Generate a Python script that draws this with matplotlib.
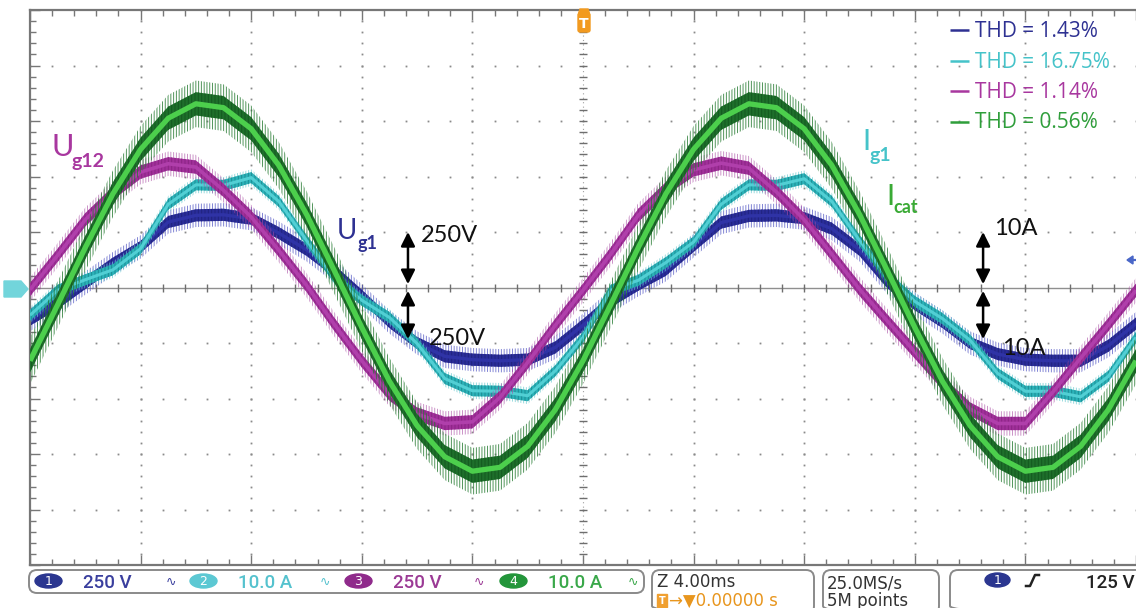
import numpy as np
import matplotlib.pyplot as plt
from matplotlib.patches import FancyBboxPatch, Ellipse, Polygon, Rectangle

W, H = 1136, 608

# 40 ms record, one reading per ms (4 ms/div)
t_ms = np.arange(41)

# traces in screen divisions: ch1/ch3 250 V/div, ch2/ch4 10 A/div
u_g1 = [-0.58, -0.28, 0.08, 0.43, 0.73, 1.18, 1.30, 1.31, 1.24, 0.98,
        0.68, 0.30, -0.15, -0.62, -1.00, -1.24, -1.30, -1.32, -1.30, -1.08,
        -0.68, -0.25, 0.05, 0.32, 0.75, 1.17, 1.29, 1.30, 1.25, 1.06,
        0.68, 0.10, -0.30, -0.62, -1.00, -1.20, -1.30, -1.32, -1.32, -1.05,
        -0.65]
i_g1 = [-0.50, -0.05, 0.14, 0.32, 0.70, 1.50, 1.85, 1.84, 1.98, 1.55,
        0.85, 0.18, -0.23, -0.54, -1.01, -1.64, -1.86, -1.87, -1.95, -1.50,
        -0.90, -0.05, 0.13, 0.45, 0.82, 1.50, 1.85, 1.84, 1.96, 1.55,
        0.85, 0.20, -0.25, -0.56, -0.95, -1.55, -1.87, -1.87, -1.97, -1.60,
        -0.90]
u_g12 = [-0.04, 0.58, 1.22, 1.70, 2.08, 2.23, 2.17, 1.75, 1.27, 0.67,
         0.04, -0.66, -1.32, -1.92, -2.28, -2.45, -2.42, -1.98, -1.35, -0.68,
         -0.05, 0.60, 1.30, 1.78, 2.12, 2.24, 2.15, 1.72, 1.22, 0.60,
         -0.03, -0.60, -1.16, -1.72, -2.19, -2.45, -2.45, -1.88, -1.27, -0.67,
         -0.05]
i_cat = [-1.32, -0.31, 0.72, 1.69, 2.49, 3.05, 3.31, 3.24, 2.86, 2.20,
         1.32, 0.31, -0.72, -1.69, -2.49, -3.05, -3.31, -3.24, -2.86, -2.20,
         -1.32, -0.31, 0.72, 1.69, 2.49, 3.05, 3.31, 3.24, 2.86, 2.20,
         1.32, 0.31, -0.72, -1.69, -2.49, -3.05, -3.31, -3.24, -2.86, -2.20,
         -1.32]

thd_text = ["THD = 1.43%", "THD = 16.75%", "THD = 1.14%", "THD = 0.56%"]
ch_names = ["1", "2", "3", "4"]
ch_scale = ["250 V", "10.0 A", "250 V", "10.0 A"]

BLUE = '#2e3192'
CYAN = '#45c3c9'
MAGENTA = '#a8379f'
GREEN = '#2f9e3b'
GRID = '#8a8a8a'


def graticule(ax):
    major_x = np.arange(0, 41, 4)
    minor_x = np.arange(0, 40.01, 0.8)
    major_y = np.arange(-5, 6)
    minor_y = np.arange(-5, 5.01, 0.2)

    for yv in major_y[1:-1]:
        if yv == 0:
            continue
        ax.plot(minor_x, np.full_like(minor_x, yv, dtype=float), ls='none',
                marker='s', ms=1.3, mew=0, color=GRID, zorder=1)
    for xv in major_x[1:-1]:
        if xv == 20:
            continue
        ax.plot(np.full_like(minor_y, xv, dtype=float), minor_y, ls='none',
                marker='s', ms=1.3, mew=0, color=GRID, zorder=1)

    # centre cross with sub-division ticks
    ax.axhline(0, color='#8f8f8f', lw=1.0, zorder=1)
    ax.plot(minor_x, np.zeros_like(minor_x), ls='none', marker='|', ms=6,
            mew=1.0, color='#6e6e6e', zorder=1)
    ax.axvline(20, color='#a0a0a0', lw=0.8, ls=(0, (1, 3)), zorder=1)
    ax.plot(np.full_like(minor_y, 20), minor_y, ls='none', marker='_', ms=6,
            mew=1.0, color='#6e6e6e', zorder=1)

    ax.set_xticks(major_x)
    ax.set_xticks(minor_x, minor=True)
    ax.set_yticks(major_y)
    ax.set_yticks(minor_y, minor=True)
    ax.tick_params(which='both', direction='in', color='#777777', width=1,
                   top=True, bottom=True, left=True, right=False,
                   labelbottom=False, labelleft=False)
    ax.tick_params(which='major', length=7)
    ax.tick_params(which='minor', length=4)
    for side in ['left', 'top', 'bottom']:
        ax.spines[side].set_color('#777777')
        ax.spines[side].set_linewidth(1.6)
    ax.spines['right'].set_visible(False)


def trace(ax, v, band_color, hatch_color, spike_color, line_color,
          band, spike, lw, z, spike_alpha=0.7):
    v = np.asarray(v)
    ax.fill_between(t_ms, v - spike, v + spike, facecolor='none',
                    edgecolor=spike_color, hatch='||||||', lw=0,
                    alpha=spike_alpha, zorder=z)
    ax.fill_between(t_ms, v - band, v + band, facecolor=band_color,
                    edgecolor=hatch_color, hatch='|||||', lw=0, zorder=z + 0.1)
    ax.plot(t_ms, v, color=line_color, lw=lw, zorder=z + 0.2,
            solid_capstyle='butt', solid_joinstyle='round')


def sub_label(ov, x, y, main, sub, color, size, sub_size, dx, dy):
    ov.text(x, y, main, color=color, fontsize=size, family='Lato',
            va='baseline', ha='left')
    ov.text(x + dx, y + dy, sub, color=color, fontsize=sub_size,
            family='Lato', va='baseline', ha='left', fontweight='bold')


def main():
    plt.rcParams['hatch.linewidth'] = 0.7
    fig = plt.figure(figsize=(W / 100, H / 100), dpi=100)
    fig.patch.set_facecolor('white')

    ax = fig.add_axes([30 / W, 1 - 565 / H, 1106 / W, 555 / H])
    ax.set_xlim(0, 40)
    ax.set_ylim(-5, 5)
    graticule(ax)

    trace(ax, u_g1, '#2a2d99', '#20237f', '#4d51c2', '#2f33a6', 0.11, 0.21, 2.4, 2)
    trace(ax, i_g1, '#2cb3b9', '#1b8c94', '#6ccbd0', '#52cfd4', 0.10, 0.15, 2.2, 3)
    trace(ax, u_g12, '#a1309a', '#8a2484', '#a84aa2', '#b03fab', 0.12, 0.22, 2.6, 4, 0.6)
    trace(ax, i_cat, '#1e6f2b', '#145a20', '#257a31', '#4ccf4c', 0.21, 0.42, 3.8, 5, 0.8)

    # one division = 250 V (voltage channels) / 10 A (current channels)
    arrow = dict(arrowstyle='<|-|>,head_length=0.6,head_width=0.3',
                 color='black', lw=1.8, shrinkA=0, shrinkB=0, mutation_scale=14)
    for xa in [13.67, 34.47]:
        ax.annotate('', xy=(xa, 1.0), xytext=(xa, 0.06), arrowprops=arrow,
                    zorder=8)
        ax.annotate('', xy=(xa, -0.93), xytext=(xa, -0.06), arrowprops=arrow,
                    zorder=8)

    # overlay in pixel coordinates for labels and the status bar
    ov = fig.add_axes([0, 0, 1, 1])
    ov.set_xlim(0, W)
    ov.set_ylim(H, 0)
    ov.set_axis_off()

    sub_label(ov, 51, 156, 'U', 'g12', MAGENTA, 22, 14, 20, 11)
    sub_label(ov, 337, 239, 'U', 'g1', BLUE, 20, 13, 20, 10)
    sub_label(ov, 862, 150, 'I', 'g1', CYAN, 21, 14, 7, 11)
    sub_label(ov, 886, 205, 'I', 'cat', '#3aaa35', 21, 13, 7, 8)

    for x, y, s in [(421, 242, '250V'), (429, 345, '250V'),
                    (994, 235, '10A'), (1002, 355, '10A')]:
        ov.text(x, y, s, color='#111111', fontsize=17, family='Lato',
                va='baseline', ha='left', zorder=9)

    # THD legend
    for i, (s, c) in enumerate(zip(thd_text, [BLUE, CYAN, MAGENTA, GREEN])):
        yb = 37 + i * 30.5
        ov.plot([950, 969], [yb - 7, yb - 7], color=c, lw=1.8,
                solid_capstyle='butt')
        ov.text(975, yb, s, color=c, fontsize=15, family='Open Sans',
                va='baseline', ha='left')

    # channel 2 ground marker and trigger markers
    ov.add_patch(Polygon([(4, 281), (21, 281), (28, 289), (21, 297), (4, 297)],
                         closed=True, color='#72d5db', zorder=5))
    ov.text(14, 289.5, '2', color='#4f9499', fontsize=9, ha='center',
            va='center', family='DejaVu Sans')
    ov.add_patch(Polygon([(580, 9), (588, 9), (590, 15), (578, 15)],
                         closed=True, color='#f29a1f'))
    ov.add_patch(FancyBboxPatch((578, 14), 12, 18,
                                boxstyle='round,pad=0,rounding_size=2',
                                color='#f29a1f'))
    ov.text(584, 23.5, 'T', color='white', fontsize=10, fontweight='bold',
            ha='center', va='center', family='DejaVu Sans')
    ov.add_patch(Polygon([(1127, 260), (1133, 256), (1133, 264)],
                         closed=True, color='#4a67c8'))
    ov.plot([1132, 1137], [260, 260], color='#4a67c8', lw=1.6)

    # status bar
    box = dict(boxstyle='round,pad=0,rounding_size=8', facecolor='none',
               edgecolor='#8a8a8a', lw=1.4)
    ov.add_patch(FancyBboxPatch((29, 570), 615, 23, **box))
    ov.add_patch(FancyBboxPatch((652, 570), 162, 44, **box))
    ov.add_patch(FancyBboxPatch((823, 570), 116, 44, **box))
    ov.add_patch(FancyBboxPatch((950, 570), 200, 44, **box))

    fill = ['#2b3690', '#5cc8d3', '#8f2a8b', '#23953a']
    text_col = ['#3a3f9e', '#55c2ce', '#9b3a95', '#3aa84a']
    for i in range(4):
        xe = 48.5 + 155 * i
        ov.add_patch(Ellipse((xe, 581), 27, 14, color=fill[i]))
        ov.text(xe, 581.5, ch_names[i], color='white', fontsize=9,
                ha='center', va='center', family='DejaVu Sans')
        ov.text(83 + 155 * i, 588, ch_scale[i], color=text_col[i],
                fontsize=13.5, family='Roboto', fontweight='medium',
                va='baseline', ha='left')
        ov.text(171 + 154 * i, 582, '\u223f', color=text_col[i], fontsize=9,
                ha='center', va='center', family='DejaVu Sans')

    ov.text(657, 587, 'Z 4.00ms', color='#333333', fontsize=12,
            family='DejaVu Sans', va='baseline')
    ov.add_patch(Rectangle((657, 594), 10, 13, color='#f0a030'))
    ov.text(662, 600.5, 'T', color='white', fontsize=7, fontweight='bold',
            ha='center', va='center', family='DejaVu Sans')
    ov.text(669, 606, '\u2192\u25bc0.00000 s', color='#e8961e', fontsize=12,
            family='DejaVu Sans', va='baseline')
    ov.text(827, 588, '25.0MS/s', color='#333333', fontsize=12,
            family='DejaVu Sans', va='baseline')
    ov.text(827, 606, '5M points', color='#333333', fontsize=12,
            family='DejaVu Sans', va='baseline')

    ov.add_patch(Ellipse((997.5, 580), 25, 14, color='#2b3690'))
    ov.text(997.5, 580.5, '1', color='white', fontsize=9, ha='center',
            va='center', family='DejaVu Sans')
    ov.plot([1026, 1030, 1035, 1039], [586, 586, 575, 575], color='#222222',
            lw=1.8)
    ov.text(1086, 588, '125 V', color='#222222', fontsize=13.5,
            family='Roboto', fontweight='medium', va='baseline')

    fig.savefig('out.png', dpi=100)


if __name__ == "__main__":
    main()
